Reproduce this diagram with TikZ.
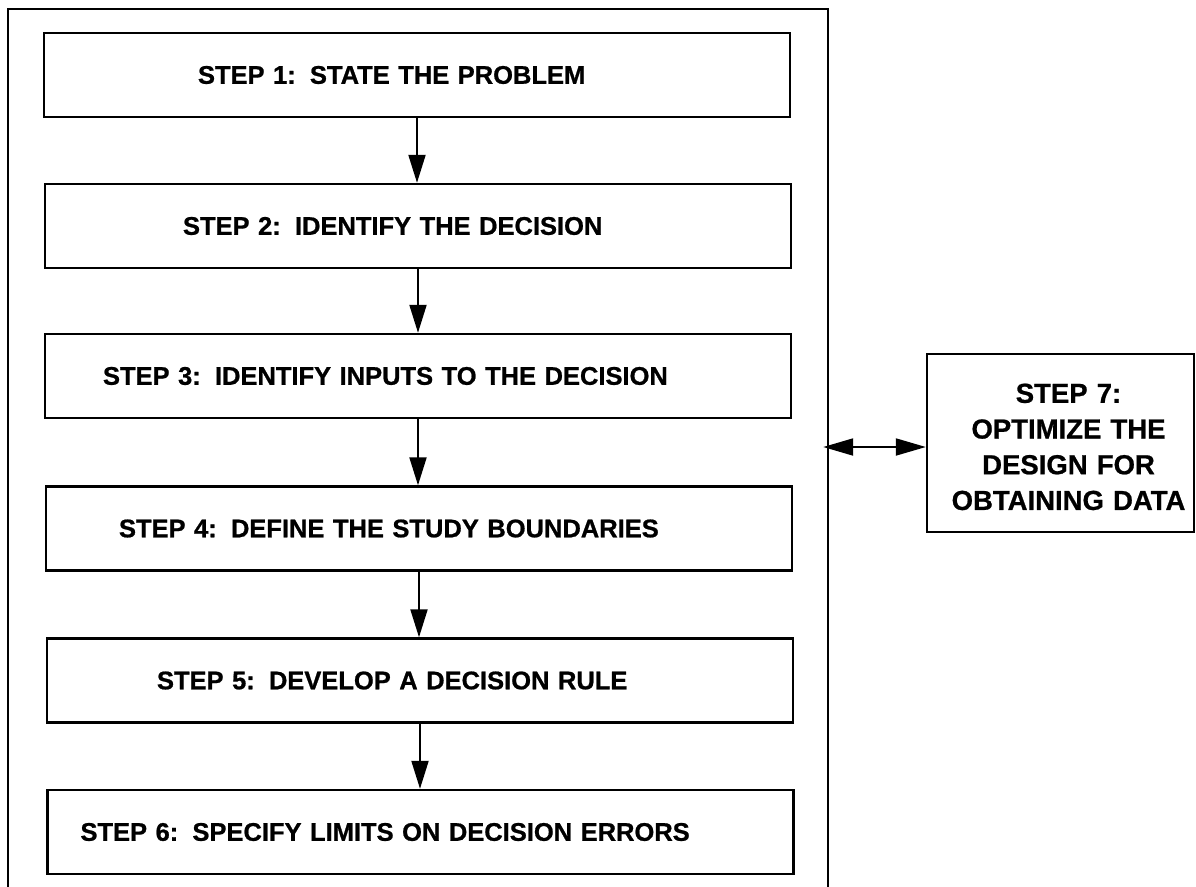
\documentclass[tikz,border=0pt]{standalone}
\usepackage{fontspec}
\setmainfont{Liberation Sans}[BoldFeatures={FakeBold=0.8}]
\usetikzlibrary{arrows.meta}
\newcommand\twosp{\hspace{0.556em}}
\tikzset{
  stepbox/.style={draw, line width=2.4pt, rectangle, minimum width=746pt, minimum height=84pt,
    text width=746pt, inner xsep=0pt, inner ysep=0pt, align=left,
    font=\fontsize{25.5}{30}\selectfont\bfseries},
  framebox/.style={draw, line width=2.4pt, rectangle, minimum width=820pt, minimum height=912pt, inner sep=0pt},
  sevenbox/.style={draw, line width=2.4pt, rectangle, minimum width=267pt, minimum height=178pt,
    inner sep=0pt, text width=260pt, align=center,
    font=\fontsize{27.5}{35.7}\selectfont\bfseries},
  flow/.style={line width=2pt, -{Triangle[length=28pt,width=17pt]}},
  dbl/.style={line width=2pt, {Triangle[length=30pt,width=17pt]}-{Triangle[length=30pt,width=17pt]}}
}
\begin{document}
\begin{tikzpicture}[x=1pt,y=-1pt]
\useasboundingbox (0,0) rectangle (1196,886);
\clip (0,0) rectangle (1196,886);
\fill[white] (0,0) rectangle (1196,886);
\node[framebox] (frame) at (418,465) {};
\node[stepbox] (s1) at (417,75) {\hspace*{154pt}STEP 1:\twosp STATE THE PROBLEM};
\node[stepbox] (s2) at (418,226) {\hspace*{138pt}STEP 2:\twosp IDENTIFY THE DECISION};
\node[stepbox] (s3) at (418,376) {\hspace*{58pt}STEP 3:\twosp IDENTIFY INPUTS TO THE DECISION};
\node[stepbox] (s4) at (419,528.5) {\hspace*{73pt}STEP 4:\twosp DEFINE THE STUDY BOUNDARIES};
\node[stepbox] (s5) at (420,680.5) {\hspace*{110pt}STEP 5:\twosp DEVELOP A DECISION RULE};
\node[stepbox] (s6) at (420.5,832) {\hspace*{33pt}STEP 6:\twosp SPECIFY LIMITS ON DECISION ERRORS};
\node[sevenbox] (s7) at (1060.5,443) {\rule{0pt}{27pt}\hspace*{16pt}STEP 7:\\\hspace*{16pt}OPTIMIZE THE\\\hspace*{16pt}DESIGN FOR\\\hspace*{16pt}OBTAINING DATA};
\draw[flow] (s1.south) -- (s1.south |- s2.north);
\draw[flow] (s2.south) -- (s2.south |- s3.north);
\draw[flow] (s3.south) -- (s3.south |- s4.north);
\draw[flow] (s4.south) -- (s4.south |- s5.north);
\draw[flow] (s5.south) -- (s5.south |- s6.north);
\draw[dbl, shorten <=-6pt] ([yshift=-4pt]s7.west -| frame.east) -- ([yshift=-4pt]s7.west);
\end{tikzpicture}
\end{document}
